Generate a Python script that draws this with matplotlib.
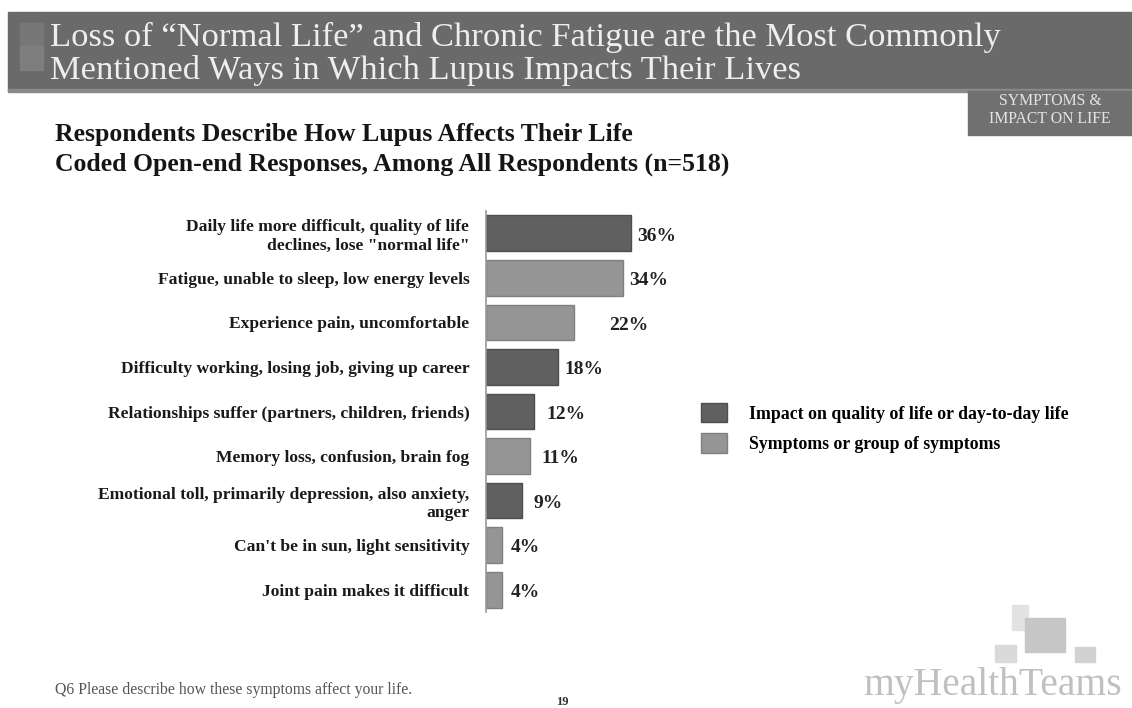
import matplotlib
matplotlib.use("Agg")
import matplotlib.pyplot as plt
from matplotlib.patches import Rectangle

# =========================
# DATA
# =========================
categories = [
    "Daily life more difficult, quality of life\ndeclines, lose \"normal life\"",
    "Fatigue, unable to sleep, low energy levels",
    "Experience pain, uncomfortable",
    "Difficulty working, losing job, giving up career",
    "Relationships suffer (partners, children, friends)",
    "Memory loss, confusion, brain fog",
    "Emotional toll, primarily depression, also anxiety,\nanger",
    "Can't be in sun, light sensitivity",
    "Joint pain makes it difficult",
]
values = [36, 34, 22, 18, 12, 11, 9, 4, 4]
# 0 = impact on quality of life, 1 = symptoms
groups = [0, 1, 1, 0, 0, 1, 0, 1, 1]
group_names = [
    "Impact on quality of life or day-to-day life",
    "Symptoms or group of symptoms",
]

title_lines = [
    "Loss of \u201cNormal Life\u201d and Chronic Fatigue are the Most Commonly",
    "Mentioned Ways in Which Lupus Impacts Their Lives",
]
subtitle_lines = [
    "Respondents Describe How Lupus Affects Their Life",
    "Coded Open-end Responses, Among All Respondents (n=518)",
]
footnote = "Q6 Please describe how these symptoms affect your life."
page_no = "19"
section_tag = "SYMPTOMS &\nIMPACT ON LIFE"
brand = "myHealthTeams"

# =========================
# STYLE
# =========================
W, H = 1132, 708
serif = ["Liberation Serif", "DejaVu Serif"]
group_colors = ["#606060", "#959595"]
group_edges = ["#4e4e4e", "#808080"]
# gap (points) between bar end and its value label, as placed on the slide
label_pads = [5, 5, 25, 4.5, 9, 8, 8, 6, 6]

fig = plt.figure(figsize=(W / 100, H / 100), dpi=100)
fig.patch.set_facecolor("white")

# background axes in pixel coordinates for the slide decorations
bg = fig.add_axes([0, 0, 1, 1])
bg.set_xlim(0, W)
bg.set_ylim(H, 0)
bg.axis("off")

# title banner
bg.add_patch(Rectangle((8, 12), W - 8, 79, color="#6a6a6a", zorder=1))
bg.add_patch(Rectangle((8, 89), W - 8, 3, color="#8a8a8a", zorder=1))
bg.add_patch(Rectangle((20, 23), 23, 23, color="#777777", zorder=2))
bg.add_patch(Rectangle((20, 46), 23, 24, color="#7e7e7e", zorder=2))
for i, line in enumerate(title_lines):
    bg.text(50, 37 + i * 34, line, fontsize=24.8, family=serif,
            color="#eeeeee", va="center", ha="left", zorder=3)

# section tag box
bg.add_patch(Rectangle((968, 91), W - 968, 44, color="#707070", zorder=2))
bg.text(1050, 110, section_tag, fontsize=11.3, family=serif, color="#e4e4e4",
        ha="center", va="center", linespacing=1.15, zorder=3)

# subtitle
for i, line in enumerate(subtitle_lines):
    bg.text(55, 134 + i * 30, line, fontsize=18.5, family=serif,
            fontweight="bold", color="#151515", va="center", ha="left")

# footer
bg.text(55, 690, footnote, fontsize=11.3, family=serif, color="#555555",
        va="center", ha="left")
bg.text(562, 702, page_no, fontsize=9, family=serif, fontweight="bold",
        color="#333333", va="center", ha="center")

# logo
bg.add_patch(Rectangle((1012, 605), 16, 25, color="#e2e2e2"))
bg.add_patch(Rectangle((1025, 618), 40, 34, color="#c6c6c6"))
bg.add_patch(Rectangle((995, 645), 21, 17, color="#dadada"))
bg.add_patch(Rectangle((1075, 647), 20, 15, color="#d2d2d2"))
bg.text(1122, 685, brand, fontsize=28.5, family=serif, color="#c0c0c0",
        va="center", ha="right")

# =========================
# BAR CHART
# =========================
ax_left, ax_top, ax_bottom = 486, 211, 612
px_per_pct = 4.02
xmax = 40
ax = fig.add_axes([ax_left / W, 1 - ax_bottom / H,
                   px_per_pct * xmax / W, (ax_bottom - ax_top) / H])
ax.patch.set_alpha(0)

ypos = list(range(len(values)))
for g in (0, 1):
    idx = [i for i in ypos if groups[i] == g]
    ax.barh([ypos[i] for i in idx], [values[i] for i in idx], height=0.8,
            color=group_colors[g], edgecolor=group_edges[g], linewidth=1,
            label=group_names[g])

for y, v, pad in zip(ypos, values, label_pads):
    ax.annotate(f"{v}%", (v, y), xytext=(pad, -2), textcoords="offset points",
                va="center", ha="left", fontsize=14, family=serif,
                fontweight="bold", color="#222222")

ax.set_xlim(0, xmax)
ax.set_ylim(len(values) - 0.5, -0.5)
ax.set_yticks(ypos)
ax.set_yticklabels(categories, family=serif, fontweight="bold",
                   fontsize=12.6, color="#1a1a1a", linespacing=1.2)
ax.tick_params(axis="y", length=0, pad=12)
ax.set_xticks([])
for side in ("top", "right", "bottom"):
    ax.spines[side].set_visible(False)
ax.spines["left"].set_color("#999999")
ax.spines["left"].set_linewidth(1.2)

fig.legend(loc="upper left", bbox_to_anchor=(701 / W, 1 - 403 / H),
           frameon=False, prop={"family": serif, "weight": "bold", "size": 12.8},
           handlelength=1.45, handleheight=1.3, labelspacing=0.6,
           handletextpad=1.25, borderpad=0, borderaxespad=0)

fig.savefig("out.png", dpi=100, facecolor="white")
